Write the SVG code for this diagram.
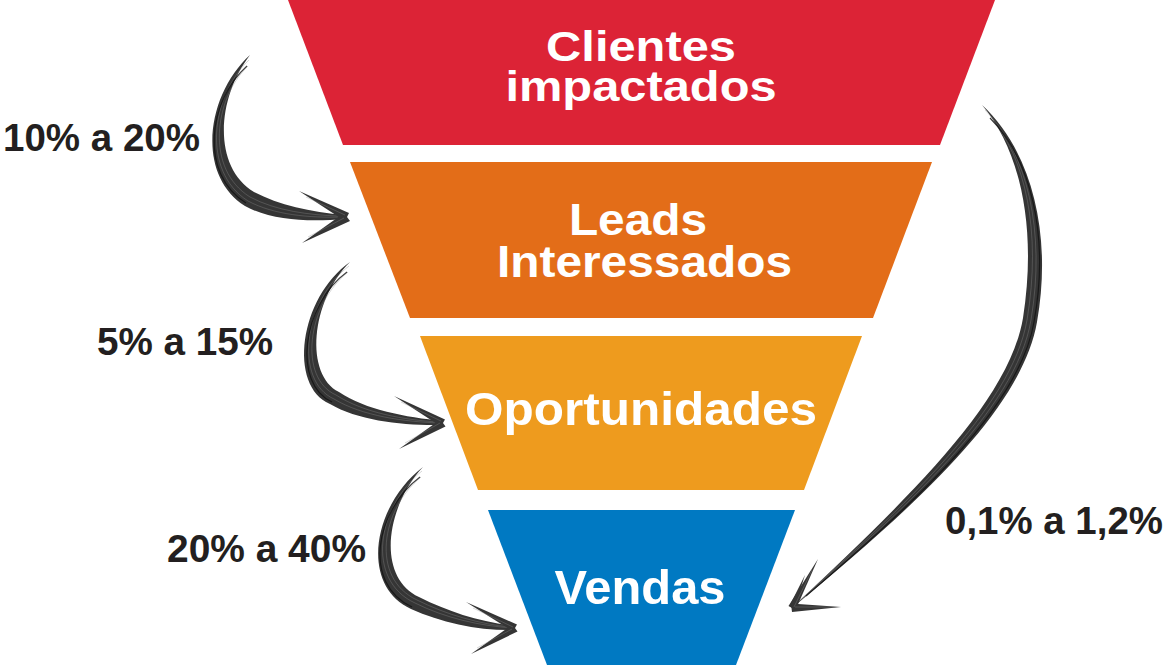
<svg xmlns="http://www.w3.org/2000/svg" width="1165" height="665" viewBox="0 0 1165 665">
<style>
.stage{font-family:"Liberation Sans",Arial,sans-serif;font-weight:bold;fill:#ffffff;text-anchor:middle}
.lbl{font-family:"Liberation Sans",Arial,sans-serif;font-weight:bold;fill:#231f20;font-size:39px}
.brush{fill:#353535}
.streak{fill:none;stroke:#8c8c8c;stroke-width:0.6;opacity:0.6}
.streak2{fill:none;stroke:#111111;stroke-width:1.2;opacity:0.8}
</style>
<rect width="1165" height="665" fill="#ffffff"/>
<g id="node-clientes">
<polygon points="288,0 995,0 940,145 343,145" fill="#dc2336"/>
<text class="stage" font-size="42" transform="translate(641,0) scale(1.162,1)"><tspan x="0" y="61">Clientes</tspan><tspan x="0" y="101">impactados</tspan></text>
</g>
<g id="node-leads">
<polygon points="350,162 932,162 873,318 410,318" fill="#e36d18"/>
<text class="stage" font-size="43.5" transform="translate(641,0) scale(1.1,1)"><tspan x="-2.7" y="235">Leads</tspan><tspan x="3.2" y="277">Interessados</tspan></text>
</g>
<g id="node-oportunidades">
<polygon points="420,336 862,336 804,490 478,490" fill="#ee9b1e"/>
<text class="stage" x="641" y="425" font-size="47" textLength="352" lengthAdjust="spacingAndGlyphs">Oportunidades</text>
</g>
<g id="node-vendas">
<polygon points="488,510 795,510 736,665 547,665" fill="#0079c2"/>
<text class="stage" x="640" y="604" font-size="49" textLength="171" lengthAdjust="spacingAndGlyphs">Vendas</text>
</g>
<g id="connectors">
<g id="arrow-1">
<path class="brush" d="M250,55 C207,94 195,174 245,206 C272,221 310,222 345,219 L345,215 C310,212 279,205 254,192 C212,166 217,98 250,55 Z"/>
<path class="streak" d="M249,60 C211,96 201,171 248,201 C274,215 310,218 342,217"/>
<path class="streak" d="M248,66 C214,99 205,169 250,197 C276,211 310,215 338,216"/>
<path class="streak2" d="M247,66 C208,101 199,174 246,203"/>
<path class="brush" d="M299,191 L349,213 L345,221 Z"/>
<path class="brush" d="M302,243 L344,213 L350,221 Z"/>
<path class="streak" d="M306,197 L345,215"/>
<path class="streak" d="M308,237 L344,218"/>
<text class="lbl" x="3" y="151" textLength="197" lengthAdjust="spacingAndGlyphs">10% a 20%</text>
</g>
<g id="arrow-2">
<path class="brush" d="M350,262 C299,298 288,386 330,404 C359,421 405,426 443,425 L443,421 C405,417 366,410 339,392 C305,375 310,302 350,262 Z"/>
<path class="streak" d="M349,266 C303,301 294,381 334,399 C362,416 405,422 441,423"/>
<path class="streak" d="M348,272 C307,305 298,378 336,395 C364,413 405,420 438,422"/>
<path class="streak2" d="M347,272 C302,305 292,384 332,402"/>
<path class="brush" d="M394,396 L445,419.5 L441,426.5 Z"/>
<path class="brush" d="M399,449 L440.5,419.5 L445.5,426.5 Z"/>
<path class="streak" d="M401,402 L441,421"/>
<path class="streak" d="M405,443 L440,423"/>
<text class="lbl" x="97" y="355" textLength="176" lengthAdjust="spacingAndGlyphs">5% a 15%</text>
</g>
<g id="arrow-3">
<path class="brush" d="M423,467 C373,505 359,585 411,609 C442,623 480,631 515,630 L515,626 C480,622 449,612 419,597 C375,576 387,505 423,467 Z"/>
<path class="streak" d="M422,471 C377,507 365,580 415,603 C445,618 480,626 513,628"/>
<path class="streak" d="M421,477 C381,510 370,578 417,600 C447,615 480,624 510,627"/>
<path class="streak2" d="M420,477 C375,511 362,584 412,607"/>
<path class="brush" d="M466,602 L517,624.5 L513,631.5 Z"/>
<path class="brush" d="M471,654 L512.5,624.5 L517.5,631.5 Z"/>
<path class="streak" d="M473,608 L513,627"/>
<path class="streak" d="M477,648 L512,629"/>
<text class="lbl" x="167" y="562" textLength="199" lengthAdjust="spacingAndGlyphs">20% a 40%</text>
</g>
<g id="arrow-4">
<path class="brush" d="M982,105 C1030,149 1053,231 1037,322 C1021,414 904,515 792,608 C897,508 1008,407 1023,318 C1037,229 1021,151 982,105 Z"/>
<path class="streak" d="M985,110 C1027,152 1046,231 1031,320 C1016,410 902,511 796,604"/>
<path class="streak" d="M990,118 C1025,155 1042,232 1027,320 C1012,408 901,509 800,600"/>
<path class="streak2" d="M990,118 C1030,158 1050,234 1034,322 C1019,411 905,511 806,596"/>
<path class="brush" d="M818,559 L795.5,610 L788.5,606 Z"/>
<path class="brush" d="M805,575 L794,609 L789.5,606 Z"/>
<path class="brush" d="M841,607 L791,603.5 L792,612 Z"/>
<path class="streak" d="M812,570 L794,607"/>
<path class="streak" d="M834,607 L795,607"/>
<text class="lbl" x="945" y="534" textLength="218" lengthAdjust="spacingAndGlyphs">0,1% a 1,2%</text>
</g>
</g>
</svg>
